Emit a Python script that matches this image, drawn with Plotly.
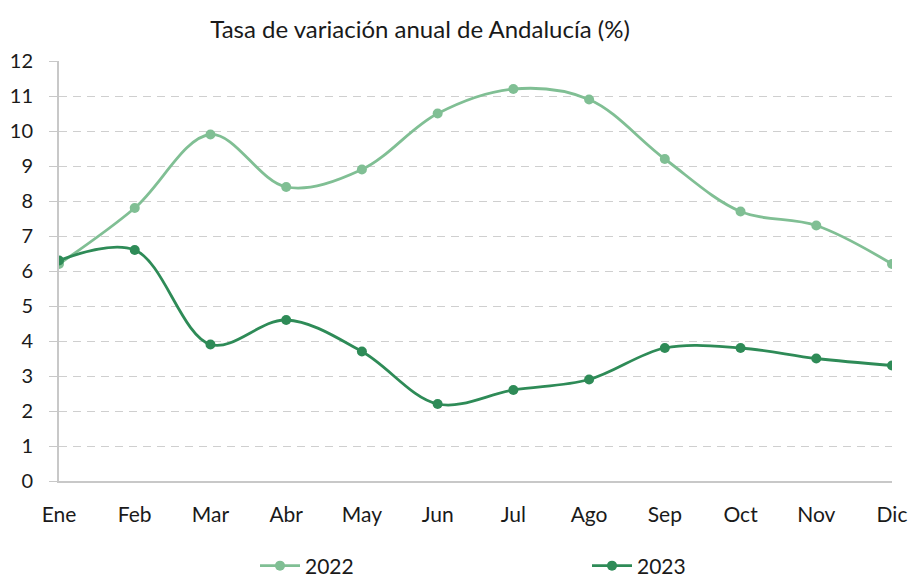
import plotly.graph_objects as go

months = ["Ene", "Feb", "Mar", "Abr", "May", "Jun", "Jul", "Ago", "Sep", "Oct", "Nov", "Dic"]
y2022 = [6.2, 7.8, 9.9, 8.4, 8.9, 10.5, 11.2, 10.9, 9.2, 7.7, 7.3, 6.2]
y2023 = [6.3, 6.6, 3.9, 4.6, 3.7, 2.2, 2.6, 2.9, 3.8, 3.8, 3.5, 3.3]
yticks = list(range(0, 13))

c2022 = "#80bf94"
c2023 = "#2e8b57"

fig = go.Figure()
fig.add_trace(go.Scatter(x=months, y=y2022, name="2022", mode="lines+markers",
                         line=dict(color=c2022, width=2.8, shape="spline", smoothing=1.0),
                         marker=dict(size=10, color=c2022)))
fig.add_trace(go.Scatter(x=months, y=y2023, name="2023", mode="lines+markers",
                         line=dict(color=c2023, width=2.8, shape="spline", smoothing=1.0),
                         marker=dict(size=10, color=c2023)))

fig.update_layout(
    width=912, height=579,
    margin=dict(l=59, r=20, t=61, b=98, autoexpand=False),
    paper_bgcolor="white", plot_bgcolor="white",
    font=dict(family="Lato, Open Sans, sans-serif", size=20, color="#1a1a1a"),
    title=dict(text="Tasa de variación anual de Andalucía (%)", x=420 / 912, xanchor="center",
               xref="container", yref="container",
               y=1 - 30 / 579, yanchor="middle", font=dict(size=24, color="#1a1a1a")),
    showlegend=True,
    legend=dict(orientation="h", xref="container", yref="container",
                x=255 / 912, xanchor="left", y=(579 - 566) / 579, yanchor="middle",
                entrywidth=277, entrywidthmode="pixels", font=dict(size=21),
                itemwidth=40, bgcolor="rgba(0,0,0,0)"),
    xaxis=dict(type="category", range=[0, 11], showline=True, linecolor="#c8c8c8", linewidth=2,
               showgrid=False, ticks="", tickfont=dict(size=21), ticklabelstandoff=14,
               automargin=False),
    yaxis=dict(range=[0, 12], tickvals=yticks, showline=True, linecolor="#c8c8c8", linewidth=2,
               showgrid=True, gridcolor="#cfcfcf", griddash="8px,6px", gridwidth=1.3,
               ticks="outside", ticklen=8, tickcolor="#c8c8c8", zeroline=False,
               ticklabelstandoff=12, tickfont=dict(size=20), automargin=False),
)

fig.write_html("out.html", config={"displayModeBar": False},
               post_script="document.body.style.margin='0';document.body.style.padding='0';")
